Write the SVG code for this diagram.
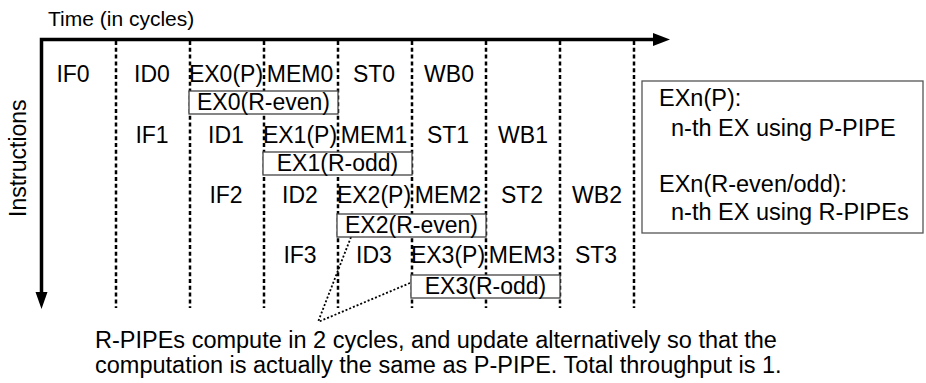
<svg xmlns="http://www.w3.org/2000/svg" width="926" height="383" viewBox="0 0 926 383">
<defs>
<style>
text{font-family:"Liberation Sans",Arial,Helvetica,sans-serif;fill:#000}
.t{font-size:23px;text-anchor:middle}
.title{font-size:21px}
.leg{font-size:23.5px}
.note{font-size:23.5px}
.grid{stroke:#000;stroke-width:2.5;stroke-dasharray:4 2.8;fill:none}
.axis{stroke:#000;stroke-width:3.5;fill:none}
.rbox{fill:#fff;stroke:#444;stroke-width:1.3}
.call{stroke:#000;stroke-width:1.8;stroke-dasharray:2 2;fill:none}
</style>
</defs>
<rect width="926" height="383" fill="#fff"/>

<g id="connectors">
  <g id="grid">
    <line class="grid" x1="116" y1="41" x2="116" y2="308"/>
    <line class="grid" x1="190" y1="41" x2="190" y2="308"/>
    <line class="grid" x1="264" y1="41" x2="264" y2="308"/>
    <line class="grid" x1="338" y1="41" x2="338" y2="308"/>
    <line class="grid" x1="412" y1="41" x2="412" y2="308"/>
    <line class="grid" x1="486" y1="41" x2="486" y2="308"/>
    <line class="grid" x1="560" y1="41" x2="560" y2="308"/>
    <line class="grid" x1="634" y1="41" x2="634" y2="308"/>
  </g>
  <g id="axes">
    <polyline class="axis" points="655,39.5 41.5,39.5 41.5,294"/>
    <polygon points="653,33 670,39.5 653,46" fill="#000"/>
    <polygon points="35.5,292 47.5,292 41.5,309" fill="#000"/>
  </g>
  <g id="callouts">
    <line class="call" x1="351" y1="237" x2="318" y2="322"/>
    <line class="call" x1="410" y1="283" x2="318" y2="322"/>
  </g>
</g>

<g id="axis-labels">
  <text class="title" x="48" y="26">Time (in cycles)</text>
  <text class="title" style="font-size:23px" transform="translate(26,217) rotate(-90)">Instructions</text>
</g>

<g id="row0">
  <text class="t" x="73" y="82">IF0</text>
  <text class="t" x="152" y="82">ID0</text>
  <text class="t" x="226" y="82">EX0(P)</text>
  <text class="t" x="300" y="82">MEM0</text>
  <text class="t" x="374" y="82">ST0</text>
  <text class="t" x="449" y="82">WB0</text>
</g>
<g id="ex0r">
  <rect class="rbox" x="189" y="91" width="149" height="23"/>
  <text class="t" x="263.5" y="110">EX0(R-even)</text>
</g>

<g id="row1">
  <text class="t" x="152" y="143">IF1</text>
  <text class="t" x="226" y="143">ID1</text>
  <text class="t" x="300" y="143">EX1(P)</text>
  <text class="t" x="374" y="143">MEM1</text>
  <text class="t" x="448" y="143">ST1</text>
  <text class="t" x="523" y="143">WB1</text>
</g>
<g id="ex1r">
  <rect class="rbox" x="263" y="152" width="149" height="23"/>
  <text class="t" x="337.5" y="171">EX1(R-odd)</text>
</g>

<g id="row2">
  <text class="t" x="226" y="203">IF2</text>
  <text class="t" x="300" y="203">ID2</text>
  <text class="t" x="374" y="203">EX2(P)</text>
  <text class="t" x="448" y="203">MEM2</text>
  <text class="t" x="522" y="203">ST2</text>
  <text class="t" x="597" y="203">WB2</text>
</g>
<g id="ex2r">
  <rect class="rbox" x="337" y="214" width="149" height="23"/>
  <text class="t" x="411.5" y="233">EX2(R-even)</text>
</g>

<g id="row3">
  <text class="t" x="300" y="263">IF3</text>
  <text class="t" x="374" y="263">ID3</text>
  <text class="t" x="448" y="263">EX3(P)</text>
  <text class="t" x="522" y="263">MEM3</text>
  <text class="t" x="596" y="263">ST3</text>
</g>
<g id="ex3r">
  <rect class="rbox" x="411" y="275" width="149" height="23"/>
  <text class="t" x="485.5" y="294">EX3(R-odd)</text>
</g>

<g id="legend">
  <rect x="642" y="81" width="281" height="152" fill="#fff" stroke="#555" stroke-width="1.3"/>
  <text class="leg" x="659" y="106">EXn(P):</text>
  <text class="leg" x="671" y="136">n-th EX using P-PIPE</text>
  <text class="leg" x="659" y="192">EXn(R-even/odd):</text>
  <text class="leg" x="671" y="220">n-th EX using R-PIPEs</text>
</g>

<g id="note">
  <text class="note" x="95" y="348">R-PIPEs compute in 2 cycles, and update alternatively so that the</text>
  <text class="note" x="95" y="373">computation is actually the same as P-PIPE. Total throughput is 1.</text>
</g>
</svg>
